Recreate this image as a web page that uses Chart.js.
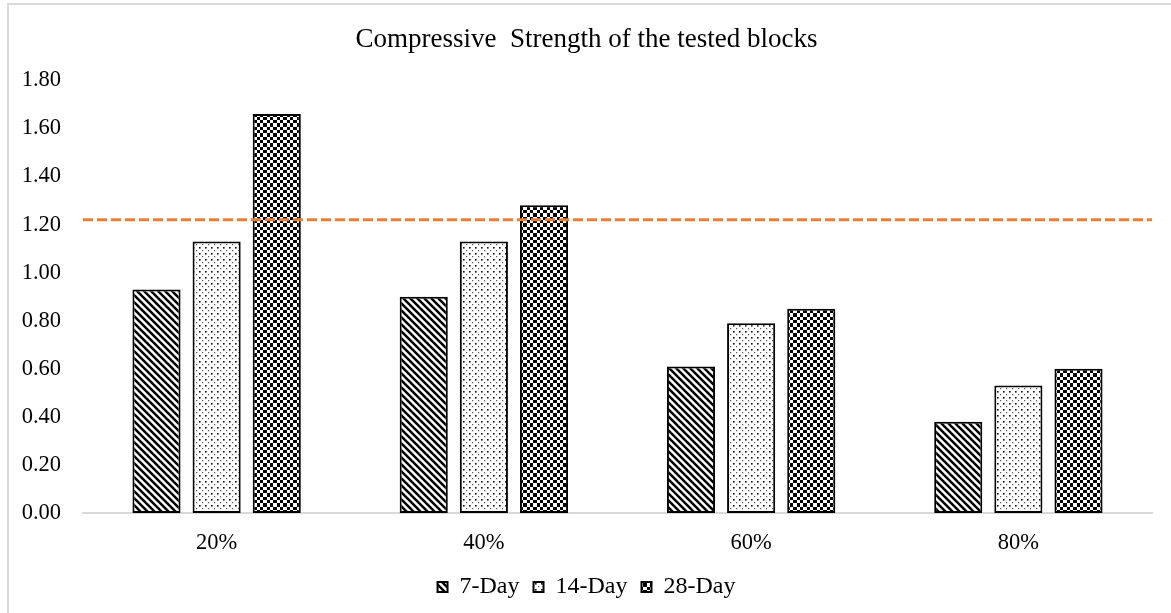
<!DOCTYPE html>
<html>
<head>
<meta charset="utf-8">
<script src="https://cdn.jsdelivr.net/npm/chart.js@4"></script>
<style>
  html, body { margin: 0; padding: 0; background: #fff; overflow: hidden; }
  #wrap { width: 1171px; height: 613px; position: relative; }
</style>
</head>
<body>
<div id="wrap"><canvas id="chart"></canvas></div>
<script>
/* ================= DATA ================= */
const categories = ["20%", "40%", "60%", "80%"];
const day7 = [0.93, 0.90, 0.61, 0.38];
const day14 = [1.13, 1.13, 0.79, 0.53];
const day28 = [1.66, 1.28, 0.85, 0.60];
const seriesNames = ["7-Day", "14-Day", "28-Day"];
const referenceLine = 1.22;
const yTicks = [0, 0.2, 0.4, 0.6, 0.8, 1.0, 1.2, 1.4, 1.6, 1.8];

const FONT = "'Liberation Serif', 'Times New Roman', serif";

/* ================= PATTERNS ================= */
function makeTile(w, h, draw) {
  const c = document.createElement("canvas");
  c.width = w; c.height = h;
  const g = c.getContext("2d");
  g.fillStyle = "#fff";
  g.fillRect(0, 0, w, h);
  draw(g);
  return document.getElementById("chart").getContext("2d").createPattern(c, "repeat");
}

// diagonal stripes "\"
const stripes = makeTile(7, 7, g => {
  g.strokeStyle = "#000";
  g.lineWidth = 2.5;
  for (let o = -7; o <= 7; o += 7) {
    g.beginPath();
    g.moveTo(o - 1, -1);
    g.lineTo(o + 8, 8);
    g.stroke();
  }
});

// small dots
const dots = makeTile(6, 6, g => {
  g.fillStyle = "#111";
  g.fillRect(1, 1, 1.6, 1.6);
  g.fillStyle = "#555";
  g.fillRect(4, 4, 1.2, 1.2);
});

// checkerboard
const checker = makeTile(20, 20, g => {
  const edges = [0, 3, 7, 10, 13, 17, 20];
  g.fillStyle = "#000";
  for (let i = 0; i < 6; i++) {
    for (let j = 0; j < 6; j++) {
      if ((i + j) % 2 === 0) {
        g.fillRect(edges[i], edges[j], edges[i + 1] - edges[i], edges[j + 1] - edges[j]);
      }
    }
  }
});

/* ================= PLUGINS ================= */
const frame = {
  id: "frame",
  beforeDraw(chart) {
    const ctx = chart.ctx;
    ctx.save();
    ctx.strokeStyle = "#d9d9d9";
    ctx.lineWidth = 2;
    ctx.beginPath();
    ctx.moveTo(8, chart.height + 5);
    ctx.lineTo(8, 4);
    ctx.lineTo(chart.width + 5, 4);
    ctx.stroke();
    ctx.restore();
  }
};

const targetLine = {
  id: "targetLine",
  afterDatasetsDraw(chart) {
    const { ctx, chartArea, scales } = chart;
    const y = scales.y.getPixelForValue(referenceLine);
    ctx.save();
    ctx.strokeStyle = "#ed7d31";
    ctx.lineWidth = 3;
    ctx.setLineDash([10, 4]);
    ctx.beginPath();
    ctx.moveTo(chartArea.left, y);
    ctx.lineTo(chartArea.right, y);
    ctx.stroke();
    ctx.restore();
  }
};

/* ================= CHART ================= */
const barStyle = {
  borderColor: "#000",
  borderWidth: 2,
  borderSkipped: false,
  barPercentage: 0.8,
  categoryPercentage: 0.675
};

new Chart(document.getElementById("chart"), {
  type: "bar",
  data: {
    labels: categories,
    datasets: [
      { label: seriesNames[0], data: day7, backgroundColor: stripes, ...barStyle },
      { label: seriesNames[1], data: day14, backgroundColor: dots, ...barStyle },
      { label: seriesNames[2], data: day28, backgroundColor: checker, ...barStyle }
    ]
  },
  options: {
    responsive: true,
    maintainAspectRatio: false,
    animation: false,
    layout: { padding: { left: 21, right: 19, top: 0, bottom: 4 } },
    plugins: {
      title: {
        display: true,
        text: "Compressive  Strength of the tested blocks",
        color: "#000",
        font: { family: FONT, size: 27, weight: "normal" },
        padding: { top: 24, bottom: 24 }
      },
      legend: {
        position: "bottom",
        padding: 4,
        labels: {
          color: "#000",
          font: { family: FONT, size: 24 },
          boxWidth: 10,
          boxHeight: 10,
          padding: 14
        }
      },
      tooltip: { enabled: false }
    },
    scales: {
      x: {
        grid: { display: false, drawTicks: false },
        border: { display: true, color: "#d9d9d9", width: 2 },
        ticks: { color: "#000", font: { family: FONT, size: 22.5 }, padding: 17 },
        afterFit(scale) { scale.height = 48; }
      },
      y: {
        min: 0,
        max: 1.8,
        afterBuildTicks(scale) { scale.ticks = yTicks.map(v => ({ value: v })); },
        grid: { display: false, drawTicks: false },
        border: { display: false },
        ticks: {
          color: "#000",
          font: { family: FONT, size: 22.5 },
          padding: 22,
          callback: v => Number(v).toFixed(2)
        },
        afterFit(scale) { scale.width = 62; }
      }
    }
  },
  plugins: [frame, targetLine]
});
</script>
</body>
</html>
